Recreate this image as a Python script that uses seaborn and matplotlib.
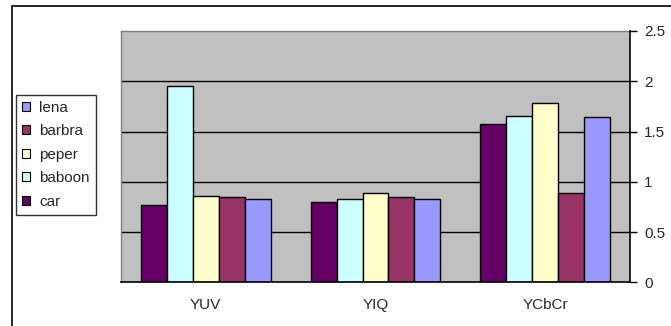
import matplotlib
matplotlib.use("Agg")
import matplotlib.pyplot as plt
from matplotlib.patches import Rectangle, Patch
import seaborn as sns
import pandas as pd

# Colour spaces on the x axis, images as the grouped bars
spaces = ["YUV", "YIQ", "YCbCr"]
images = ["car", "baboon", "peper", "barbra", "lena"]
car = [0.77, 0.80, 1.57]
baboon = [1.95, 0.83, 1.65]
peper = [0.86, 0.89, 1.78]
barbra = [0.85, 0.845, 0.89]
lena = [0.83, 0.83, 1.64]
y_ticks = [0, 0.5, 1, 1.5, 2, 2.5]

colors = {
    "car": "#660066",
    "baboon": "#CCFFFF",
    "peper": "#FFFFCC",
    "barbra": "#993366",
    "lena": "#9999FF",
}

series = {"car": car, "baboon": baboon, "peper": peper, "barbra": barbra, "lena": lena}
df = pd.DataFrame(
    [(s, img, series[img][i]) for i, s in enumerate(spaces) for img in images],
    columns=["space", "image", "value"],
)

sns.set_style("white")
plt.rcParams["font.family"] = ["Liberation Sans", "DejaVu Sans"]
FS = 11

fig = plt.figure(figsize=(6.71, 3.26), dpi=100)
ax = fig.add_axes([120.7 / 671, 1 - 282.3 / 326, 509.6 / 671, (282.3 - 31) / 326])

sns.barplot(
    data=df, x="space", y="value", hue="image", order=spaces, hue_order=images,
    palette=colors, width=0.765, edgecolor="black", linewidth=1.0,
    saturation=1, legend=False, ax=ax, zorder=3,
)

ax.set_facecolor("#C0C0C0")
ax.set_xlim(-0.5, len(spaces) - 0.5)
ax.set_ylim(0, 2.5)
ax.set_yticks(y_ticks)
ax.set_yticklabels([f"{t:g}" for t in y_ticks])
ax.yaxis.tick_right()
ax.yaxis.set_label_position("right")
ax.set_xlabel("")
ax.set_ylabel("")

# Horizontal gridlines
for t in y_ticks[1:-1]:
    ax.axhline(t, color="black", linewidth=1.0, zorder=1)

# Category boundary ticks below the axis
ax.set_xticks([i - 0.5 for i in range(len(spaces) + 1)], minor=True)
ax.set_xticks(range(len(spaces)))
ax.set_xticklabels(spaces)
ax.tick_params(axis="x", which="major", length=0, pad=11, labelsize=FS)
ax.tick_params(axis="x", which="minor", length=5, width=1, direction="out", color="black")
ax.tick_params(axis="y", length=5, width=1, direction="out", color="black", labelsize=FS, pad=5)

for side in ["left", "top"]:
    ax.spines[side].set_color("#808080")
    ax.spines[side].set_linewidth(1)
for side in ["right", "bottom"]:
    ax.spines[side].set_color("black")
    ax.spines[side].set_linewidth(1.2)
ax.spines["right"].set_zorder(4)
ax.spines["bottom"].set_zorder(4)

# Legend listed in reverse series order
handles = [Patch(facecolor=colors[n], edgecolor="black", linewidth=0.8) for n in images[::-1]]
leg = fig.legend(
    handles, images[::-1], loc="upper left",
    bbox_to_anchor=(16 / 671, 1 - 95 / 326), fontsize=FS,
    frameon=True, fancybox=False, edgecolor="black",
    handlelength=0.55, handleheight=0.55, handletextpad=0.6,
    labelspacing=0.62, borderpad=0.38, borderaxespad=0,
)
leg.get_frame().set_linewidth(1.0)

# Chart area border
fig.patches.append(Rectangle(
    (12 / 671, -0.1), 1.0, 1 - 6 / 326 + 0.1, transform=fig.transFigure,
    fill=False, edgecolor="black", linewidth=1.2,
))

fig.savefig("out.png", dpi=100)
